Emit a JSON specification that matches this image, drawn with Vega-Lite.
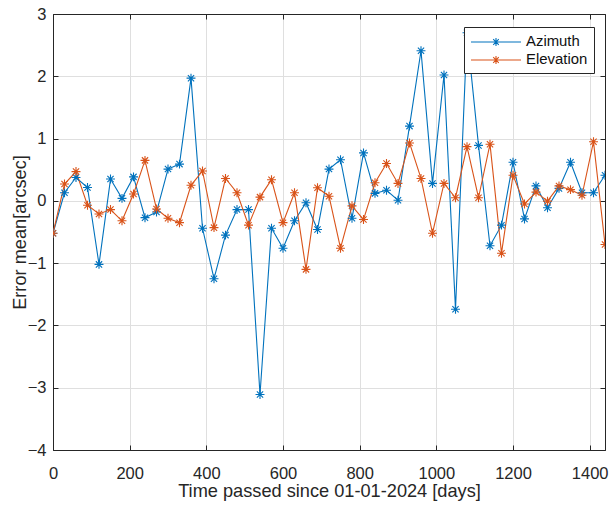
{
  "$schema": "https://vega.github.io/schema/vega-lite/v6.json",
  "width": 552,
  "height": 436,
  "autosize": {"type": "none"},
  "padding": {"left": 53, "top": 14, "right": 5, "bottom": 56},
  "background": "white",
  "view": {"stroke": "#262626", "strokeWidth": 1},
  "config": {
    "font": "Liberation Sans",
    "axis": {
      "labelFont": "Liberation Sans",
      "titleFont": "Liberation Sans",
      "labelFontSize": 16.5,
      "titleFontSize": 18.2,
      "titleFontWeight": "normal",
      "labelColor": "#262626",
      "titleColor": "#262626",
      "domainColor": "#262626",
      "tickColor": "#262626",
      "gridColor": "#dfdfdf",
      "gridWidth": 1,
      "tickSize": -5,
      "tickWidth": 1
    }
  },
  "data": {
    "values": [
      {"day": 0, "series": "Azimuth", "value": -0.52},
      {"day": 30, "series": "Azimuth", "value": 0.13},
      {"day": 60, "series": "Azimuth", "value": 0.375},
      {"day": 90, "series": "Azimuth", "value": 0.215},
      {"day": 120, "series": "Azimuth", "value": -1.02},
      {"day": 150, "series": "Azimuth", "value": 0.35},
      {"day": 180, "series": "Azimuth", "value": 0.04},
      {"day": 210, "series": "Azimuth", "value": 0.385},
      {"day": 240, "series": "Azimuth", "value": -0.27},
      {"day": 270, "series": "Azimuth", "value": -0.18},
      {"day": 300, "series": "Azimuth", "value": 0.51},
      {"day": 330, "series": "Azimuth", "value": 0.59},
      {"day": 360, "series": "Azimuth", "value": 1.97},
      {"day": 390, "series": "Azimuth", "value": -0.44},
      {"day": 420, "series": "Azimuth", "value": -1.25},
      {"day": 450, "series": "Azimuth", "value": -0.55},
      {"day": 480, "series": "Azimuth", "value": -0.14},
      {"day": 510, "series": "Azimuth", "value": -0.14},
      {"day": 540, "series": "Azimuth", "value": -3.11},
      {"day": 570, "series": "Azimuth", "value": -0.44},
      {"day": 600, "series": "Azimuth", "value": -0.76},
      {"day": 630, "series": "Azimuth", "value": -0.32},
      {"day": 660, "series": "Azimuth", "value": -0.03},
      {"day": 690, "series": "Azimuth", "value": -0.46},
      {"day": 720, "series": "Azimuth", "value": 0.51},
      {"day": 750, "series": "Azimuth", "value": 0.66},
      {"day": 780, "series": "Azimuth", "value": -0.28},
      {"day": 810, "series": "Azimuth", "value": 0.77},
      {"day": 840, "series": "Azimuth", "value": 0.12},
      {"day": 870, "series": "Azimuth", "value": 0.17},
      {"day": 900, "series": "Azimuth", "value": 0.01},
      {"day": 930, "series": "Azimuth", "value": 1.2},
      {"day": 960, "series": "Azimuth", "value": 2.41},
      {"day": 990, "series": "Azimuth", "value": 0.28},
      {"day": 1020, "series": "Azimuth", "value": 2.02},
      {"day": 1050, "series": "Azimuth", "value": -1.74},
      {"day": 1080, "series": "Azimuth", "value": 2.7},
      {"day": 1110, "series": "Azimuth", "value": 0.89},
      {"day": 1140, "series": "Azimuth", "value": -0.72},
      {"day": 1170, "series": "Azimuth", "value": -0.39},
      {"day": 1200, "series": "Azimuth", "value": 0.62},
      {"day": 1230, "series": "Azimuth", "value": -0.29},
      {"day": 1260, "series": "Azimuth", "value": 0.24},
      {"day": 1290, "series": "Azimuth", "value": -0.11},
      {"day": 1320, "series": "Azimuth", "value": 0.2},
      {"day": 1350, "series": "Azimuth", "value": 0.62},
      {"day": 1380, "series": "Azimuth", "value": 0.13},
      {"day": 1410, "series": "Azimuth", "value": 0.13},
      {"day": 1440, "series": "Azimuth", "value": 0.41},
      {"day": 0, "series": "Elevation", "value": -0.52},
      {"day": 30, "series": "Elevation", "value": 0.27},
      {"day": 60, "series": "Elevation", "value": 0.47},
      {"day": 90, "series": "Elevation", "value": -0.07},
      {"day": 120, "series": "Elevation", "value": -0.21},
      {"day": 150, "series": "Elevation", "value": -0.14},
      {"day": 180, "series": "Elevation", "value": -0.32},
      {"day": 210, "series": "Elevation", "value": 0.11},
      {"day": 240, "series": "Elevation", "value": 0.65},
      {"day": 270, "series": "Elevation", "value": -0.13},
      {"day": 300, "series": "Elevation", "value": -0.28},
      {"day": 330, "series": "Elevation", "value": -0.35},
      {"day": 360, "series": "Elevation", "value": 0.25},
      {"day": 390, "series": "Elevation", "value": 0.48},
      {"day": 420, "series": "Elevation", "value": -0.43},
      {"day": 450, "series": "Elevation", "value": 0.36},
      {"day": 480, "series": "Elevation", "value": 0.13},
      {"day": 510, "series": "Elevation", "value": -0.39},
      {"day": 540, "series": "Elevation", "value": 0.06},
      {"day": 570, "series": "Elevation", "value": 0.34},
      {"day": 600, "series": "Elevation", "value": -0.35},
      {"day": 630, "series": "Elevation", "value": 0.13},
      {"day": 660, "series": "Elevation", "value": -1.1},
      {"day": 690, "series": "Elevation", "value": 0.21},
      {"day": 720, "series": "Elevation", "value": 0.075},
      {"day": 750, "series": "Elevation", "value": -0.76},
      {"day": 780, "series": "Elevation", "value": -0.08},
      {"day": 810, "series": "Elevation", "value": -0.3},
      {"day": 840, "series": "Elevation", "value": 0.29},
      {"day": 870, "series": "Elevation", "value": 0.6},
      {"day": 900, "series": "Elevation", "value": 0.28},
      {"day": 930, "series": "Elevation", "value": 0.93},
      {"day": 960, "series": "Elevation", "value": 0.36},
      {"day": 990, "series": "Elevation", "value": -0.52},
      {"day": 1020, "series": "Elevation", "value": 0.28},
      {"day": 1050, "series": "Elevation", "value": 0.05},
      {"day": 1080, "series": "Elevation", "value": 0.87},
      {"day": 1110, "series": "Elevation", "value": 0.05},
      {"day": 1140, "series": "Elevation", "value": 0.91},
      {"day": 1170, "series": "Elevation", "value": -0.84},
      {"day": 1200, "series": "Elevation", "value": 0.41},
      {"day": 1230, "series": "Elevation", "value": -0.05},
      {"day": 1260, "series": "Elevation", "value": 0.14},
      {"day": 1290, "series": "Elevation", "value": -0.005},
      {"day": 1320, "series": "Elevation", "value": 0.24},
      {"day": 1350, "series": "Elevation", "value": 0.18},
      {"day": 1380, "series": "Elevation", "value": 0.09},
      {"day": 1410, "series": "Elevation", "value": 0.95},
      {"day": 1440, "series": "Elevation", "value": -0.7}
    ]
  },
  "layer": [
    {
      "mark": {
        "type": "line",
        "strokeWidth": 1.1,
        "clip": true,
        "point": {
          "filled": false,
          "shape": "M-1,0H1M0,-1V1M-0.7,-0.7L0.7,0.7M-0.7,0.7L0.7,-0.7",
          "size": 80,
          "strokeWidth": 1.1
        }
      },
      "encoding": {
        "x": {
          "field": "day",
          "type": "quantitative",
          "scale": {"domain": [0, 1440], "nice": false, "zero": false},
          "axis": {
            "orient": "bottom",
            "values": [0, 200, 400, 600, 800, 1000, 1200, 1400],
            "format": "d",
            "labelPadding": 20,
            "labelFlush": false,
            "title": "Time passed since 01-01-2024 [days]",
            "titleX": 276,
            "titleY": 46.7,
            "titleAlign": "center",
            "titleBaseline": "alphabetic"
          }
        },
        "y": {
          "field": "value",
          "type": "quantitative",
          "scale": {"domain": [-4, 3], "nice": false, "zero": false},
          "axis": {
            "orient": "left",
            "values": [-4, -3, -2, -1, 0, 1, 2, 3],
            "format": "d",
            "labelPadding": 12,
            "labelFlush": false,
            "title": "Error mean[arcsec]",
            "titleX": -28,
            "titleY": 218,
            "titleAngle": 270,
            "titleAlign": "center",
            "titleBaseline": "alphabetic"
          }
        },
        "color": {
          "field": "series",
          "type": "nominal",
          "scale": {"domain": ["Azimuth", "Elevation"], "range": ["#0072BD", "#D95319"]},
          "legend": {
            "title": null,
            "orient": "none",
            "legendX": 411,
            "legendY": 13,
            "padding": 6,
            "fillColor": "white",
            "strokeColor": "#262626",
            "cornerRadius": 0,
            "symbolType": "M-3.125,0H3.125M-0.5,0H0.5M0,-0.5V0.5M-0.35,-0.35L0.35,0.35M-0.35,0.35L0.35,-0.35",
            "symbolSize": 256,
            "symbolOffset": 17,
            "symbolStrokeWidth": 1.1,
            "symbolFillColor": "transparent",
            "labelFont": "Liberation Sans",
            "labelFontSize": 14.9,
            "labelColor": "#111111",
            "labelOffset": 21,
            "rowPadding": 2
          }
        }
      }
    },
    {
      "mark": {"type": "point", "opacity": 0},
      "encoding": {
        "x": {
          "field": "day",
          "type": "quantitative",
          "axis": {
            "orient": "top",
            "values": [0, 200, 400, 600, 800, 1000, 1200, 1400],
            "labels": false,
            "grid": false,
            "title": null
          }
        },
        "y": {
          "field": "value",
          "type": "quantitative",
          "axis": {
            "orient": "right",
            "values": [-4, -3, -2, -1, 0, 1, 2, 3],
            "labels": false,
            "grid": false,
            "title": null
          }
        }
      }
    }
  ],
  "resolve": {"axis": {"x": "independent", "y": "independent"}}
}
